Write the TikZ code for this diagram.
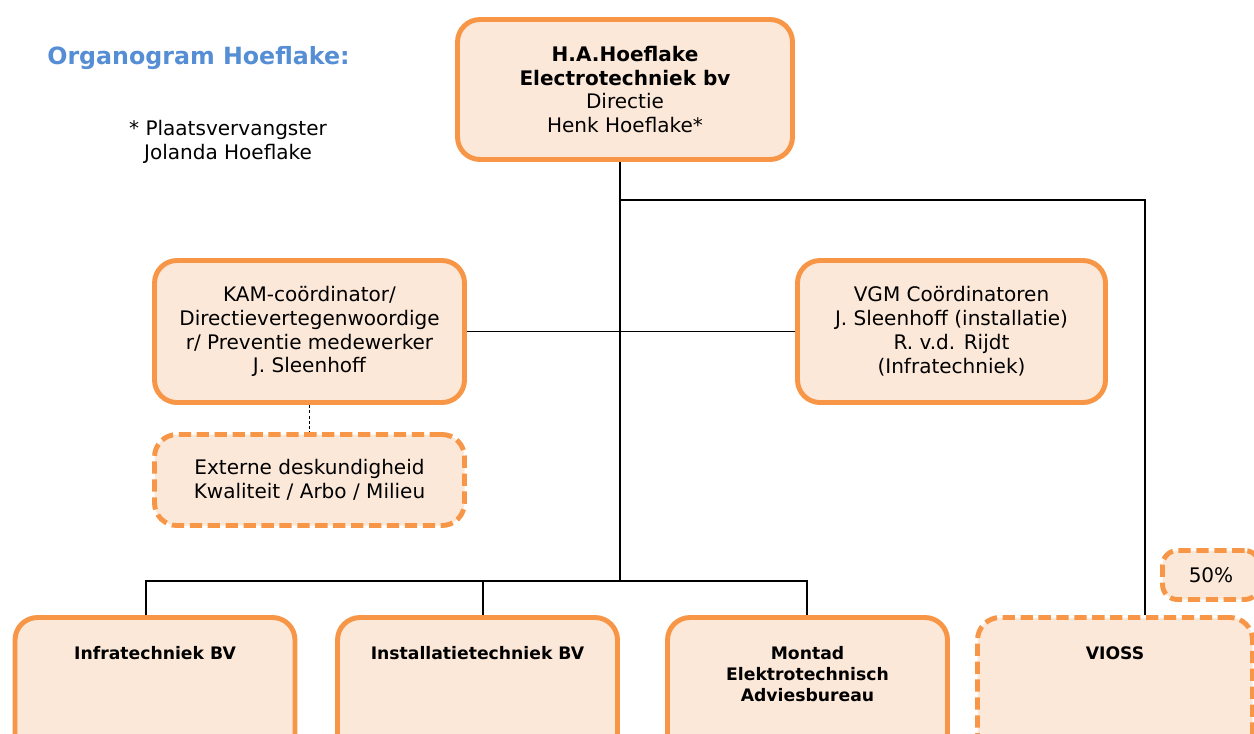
\documentclass[tikz,border=0pt]{standalone}
\usepackage{fontspec}
\setmainfont{DejaVu Sans}
\usepackage{tikz}
\usetikzlibrary{positioning}
\definecolor{boxOrange}{RGB}{247,150,70}
\definecolor{boxFill}{RGB}{252,232,217}
\definecolor{titleBlue}{RGB}{85,142,213}

\begin{document}
\begin{tikzpicture}[node distance=1cm]
  \tikzstyle{orgBox}=[rectangle, rounded corners=0.45cm, draw=boxOrange, fill=boxFill, line width=2.8pt, align=center, inner sep=2pt, font=\fontsize{11.4}{13.6}\selectfont]
  \tikzstyle{extBox}=[orgBox, dash pattern=on 7pt off 3.2pt]
  \tikzstyle{unitBox}=[orgBox, minimum width=5.6cm, minimum height=3cm]
  \tikzstyle{unitText}=[align=center, inner sep=0pt, font=\fontsize{9.8}{11.9}\selectfont\bfseries]
  \tikzstyle{link}=[line width=1pt]

  \useasboundingbox (0,0) rectangle (25.08,-14.66);

  % title and note
  \node[anchor=west, inner sep=0pt, text=titleBlue, font=\fontsize{13.5}{16}\selectfont\bfseries] (title) at (0.94,-1.16) {Organogram Hoeflake:};
  \node[align=center, inner sep=0pt, font=\fontsize{11.4}{13.6}\selectfont] (note) at (4.56,-2.83) {* Plaatsvervangster\\Jolanda Hoeflake};

  % directie
  \node[orgBox, minimum width=6.7cm, minimum height=2.8cm] (dir) at (12.5,-1.79) {\textbf{H.A.Hoeflake}\\\textbf{Electrotechniek bv}\\Directie\\Henk Hoeflake*};

  % staff
  \node[orgBox, minimum width=6.2cm, minimum height=2.84cm] (kam) at (6.19,-6.63) {KAM-coördinator/\\Directievertegenwoordige\\r/ Preventie medewerker\\J. Sleenhoff};
  \node[orgBox, minimum width=6.16cm, minimum height=2.84cm] (vgm) at (19.03,-6.63) {VGM Coördinatoren\\J. Sleenhoff (installatie)\\R. v.d. Rijdt\\(Infratechniek)};
  \node[extBox, minimum width=6.2cm, minimum height=1.82cm, below of=kam, node distance=2.97cm] (ext) {Externe deskundigheid\\Kwaliteit / Arbo / Milieu};

  % units
  \node[unitBox] (infra) at (3.1,-13.85) {};
  \node[unitBox] (inst) at (9.55,-13.85) {};
  \node[unitBox] (montad) at (16.15,-13.85) {};
  \node[unitBox, extBox, minimum width=5.5cm] (vioss) at (22.3,-13.85) {};
  \node[extBox, minimum width=1.94cm, minimum height=0.98cm, rounded corners=0.3cm] (share) at (24.22,-11.5) {50\%};

  \node[unitText, below=0.62cm of infra.north] (infraTxt) {Infratechniek BV};
  \node[unitText, below=0.62cm of inst.north] (instTxt) {Installatietechniek BV};
  \node[unitText, below=0.62cm of montad.north] (montadTxt) {Montad\\Elektrotechnisch\\Adviesbureau};
  \node[unitText, below=0.62cm of vioss.north] (viossTxt) {VIOSS};

  % lines
  \coordinate (split) at (12.4,-4);
  \coordinate (viossDrop) at (22.9,-4);
  \coordinate (busL) at (2.92,-11.62);
  \coordinate (busM) at (9.66,-11.62);
  \coordinate (busC) at (12.4,-11.62);
  \coordinate (busR) at (16.14,-11.62);

  \draw[link] (dir.south -| split) -- (busC);
  \draw[link] (split) -- (viossDrop) -- (viossDrop |- vioss.north);
  \draw[link] (kam.east) -- (vgm.west);
  \draw[link] (busL |- infra.north) -- (busL) -- (busR) -- (busR |- montad.north);
  \draw[link] (busM) -- (busM |- inst.north);
  \draw[line width=0.6pt, dash pattern=on 1.8pt off 1.2pt] (kam.south) -- (ext.north);

\end{tikzpicture}
\end{document}
